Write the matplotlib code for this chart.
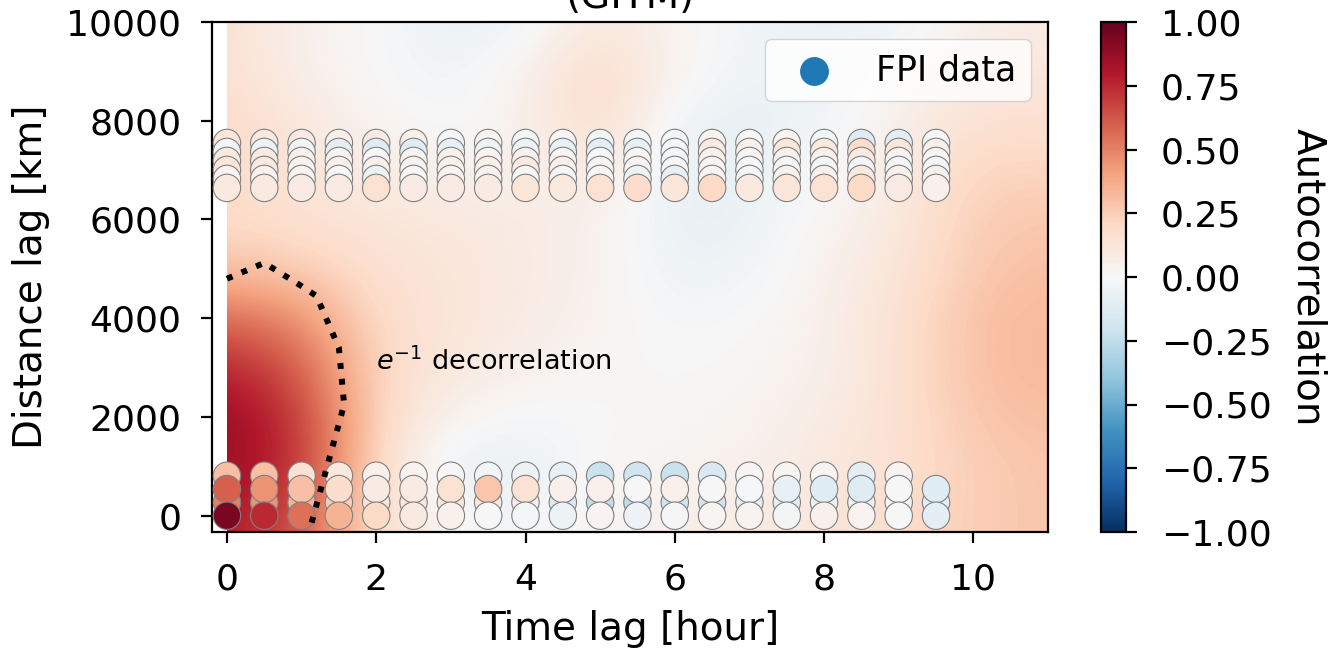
import numpy as np
import matplotlib
matplotlib.use("Agg")
import matplotlib.pyplot as plt
from matplotlib.patches import Rectangle

# time lags [hour] of the FPI pairs
t_fpi = [0.0, 0.5, 1.0, 1.5, 2.0, 2.5, 3.0, 3.5, 4.0, 4.5,
         5.0, 5.5, 6.0, 6.5, 7.0, 7.5, 8.0, 8.5, 9.0, 9.5]

# FPI autocorrelation, one list per distance lag [km] (nan = no pair)
nan = np.nan
fpi = {
    270:  [0.50, 0.45, 0.35, 0.25, 0.12, 0.10, 0.12, 0.10, 0.05, -0.15,
           -0.25, -0.25, -0.20, -0.20, -0.10, -0.10, -0.05, -0.05, 0.00, -0.10],
    810:  [0.30, 0.30, 0.15, 0.10, 0.05, 0.03, 0.00, -0.03, -0.05, -0.08,
           -0.22, -0.20, -0.22, -0.15, 0.02, 0.02, 0.02, -0.10, 0.03, nan],
    540:  [0.60, 0.45, 0.30, 0.18, 0.08, 0.08, 0.15, 0.28, 0.15, 0.05,
           0.05, 0.00, 0.05, 0.00, -0.01, -0.08, -0.12, -0.12, 0.00, -0.12],
    0:    [0.95, 0.75, 0.55, 0.35, 0.20, 0.10, 0.05, 0.00, -0.02, -0.05,
           0.03, -0.06, -0.02, 0.02, 0.03, -0.03, 0.05, 0.03, 0.00, -0.10],
    7550: [0.12, 0.10, 0.08, 0.05, 0.08, 0.05, 0.00, 0.02, -0.03, 0.00,
           -0.03, -0.02, -0.02, 0.03, 0.00, 0.02, -0.03, -0.12, -0.10, 0.00],
    7368: [-0.03, -0.05, -0.03, -0.10, -0.12, -0.12, -0.08, -0.05, -0.05, -0.08,
           -0.10, -0.08, -0.03, 0.08, 0.05, 0.12, 0.10, 0.18, 0.12, 0.05],
    7186: [0.10, 0.08, 0.05, 0.03, 0.00, 0.02, 0.05, 0.03, 0.05, 0.03,
           0.00, 0.02, -0.02, 0.05, 0.02, 0.05, 0.05, 0.08, 0.03, 0.02],
    7004: [0.12, 0.10, 0.03, 0.05, 0.05, 0.03, 0.05, 0.05, 0.08, 0.05,
           0.03, 0.03, 0.00, 0.02, -0.01, -0.02, -0.02, -0.02, -0.02, -0.02],
    6822: [0.03, 0.03, 0.03, 0.00, -0.05, 0.00, 0.03, 0.03, 0.00, -0.02,
           0.00, -0.05, -0.08, 0.02, -0.02, 0.05, 0.05, 0.10, 0.05, 0.05],
    6640: [0.10, 0.10, 0.08, 0.08, 0.15, 0.08, 0.08, 0.08, 0.12, 0.10,
           0.15, 0.18, 0.12, 0.20, 0.10, 0.12, 0.15, 0.20, 0.08, 0.05],
}

# GITM autocorrelation field (rows: distance lag, cols: time lag)
t_grid = [0, 1, 2, 3, 4, 5, 6, 7, 8, 9, 10, 11]
d_grid = [0, 1000, 2000, 3000, 4000, 5000, 6000, 7000, 8000, 9000, 10000]
gitm = np.array([
    [0.80, 0.65, 0.15, 0.00, -0.03, 0.03, 0.05, 0.08, 0.12, 0.18, 0.25, 0.28],
    [0.87, 0.74, 0.18, -0.08, -0.08, 0.02, 0.03, 0.05, 0.10, 0.15, 0.25, 0.28],
    [0.87, 0.72, 0.20, 0.03, -0.02, 0.00, 0.02, 0.03, 0.08, 0.15, 0.28, 0.30],
    [0.77, 0.62, 0.20, 0.10, 0.05, 0.02, 0.00, 0.02, 0.05, 0.15, 0.30, 0.32],
    [0.57, 0.47, 0.18, 0.12, 0.08, 0.03, -0.02, 0.00, 0.05, 0.15, 0.30, 0.32],
    [0.30, 0.25, 0.15, 0.12, 0.08, 0.05, -0.06, -0.04, 0.05, 0.12, 0.27, 0.30],
    [0.18, 0.15, 0.12, 0.10, 0.08, 0.05, -0.08, -0.06, 0.02, 0.10, 0.25, 0.27],
    [0.20, 0.12, 0.08, 0.05, 0.05, 0.10, -0.08, -0.07, 0.00, 0.08, 0.22, 0.22],
    [0.20, 0.10, 0.03, -0.02, 0.05, 0.20, -0.05, -0.08, -0.03, 0.05, 0.15, 0.15],
    [0.15, 0.05, 0.00, -0.05, 0.05, 0.20, 0.03, -0.05, -0.05, 0.02, 0.10, 0.12],
    [0.15, 0.05, 0.00, -0.07, -0.05, 0.12, 0.02, -0.03, -0.07, -0.05, 0.05, 0.08],
])

# e^-1 decorrelation line
t_cont = [0.0, 0.5, 1.0, 1.2, 1.5, 1.57, 1.1]
d_cont = [4800, 5120, 4650, 4450, 3400, 2250, -330]

plt.rcParams['font.family'] = 'DejaVu Sans'
cmap = 'RdBu_r'

fig = plt.figure(figsize=(13.29, 6.53), dpi=100)
ax = fig.add_axes([212/1329, 1 - 532/653, (1048-212)/1329, (532-22)/653])
cax = fig.add_axes([1101/1329, 1 - 532/653, 25/1329, (532-22)/653])

im = ax.imshow(gitm, origin='lower', cmap=cmap, vmin=-1, vmax=1,
               interpolation='bicubic', aspect='auto',
               extent=[t_grid[0] - 0.5, t_grid[-1] + 0.5,
                       d_grid[0] - 500, d_grid[-1] + 500])
im.set_clip_path(Rectangle((0, -300), 11, 10300, transform=ax.transData))

for d, vals in fpi.items():
    vals = np.array(vals)
    ok = ~np.isnan(vals)
    ax.scatter(np.array(t_fpi)[ok], np.full(ok.sum(), d), c=vals[ok],
               cmap=cmap, vmin=-1, vmax=1, s=390,
               edgecolors='#808080', linewidths=0.8, zorder=3)

ax.plot(t_cont, d_cont, color='black', linestyle=':', lw=4.3, zorder=4)
ax.text(2.0, 2950, r'$e^{-1}$ decorrelation', fontsize=19.5,
        ha='left', va='baseline', zorder=5)

ax.scatter([], [], color='tab:blue', s=390, label='FPI data')
leg = ax.legend(loc='upper right', fontsize=25, framealpha=0.8)
leg.set_zorder(10)

ax.set_xlim(-0.2, 11)
ax.set_ylim(-330, 10000)
ax.set_xticks([0, 2, 4, 6, 8, 10])
ax.set_yticks([0, 2000, 4000, 6000, 8000, 10000])
ax.set_xlabel('Time lag [hour]', fontsize=28, labelpad=10)
ax.set_ylabel('Distance lag [km]', fontsize=28, labelpad=12)
ax.set_title('(GITM)', fontsize=28, pad=10)
ax.tick_params(labelsize=26, length=8, width=1.6, pad=14)
for s in ax.spines.values():
    s.set_linewidth(1.6)

cbar = fig.colorbar(im, cax=cax)
cbar.set_ticks([-1, -0.75, -0.5, -0.25, 0, 0.25, 0.5, 0.75, 1])
cbar.ax.yaxis.set_major_formatter(
    matplotlib.ticker.FuncFormatter(lambda v, p: f'{v:.2f}'.replace('-', '\u2212')))
cbar.ax.tick_params(labelsize=26, length=8, width=1.6, pad=17)
cbar.outline.set_linewidth(1.6)
cbar.set_label('Autocorrelation', fontsize=28, rotation=270, va='center')
cax.yaxis.set_label_coords((1308 - 1101) / 25, 0.5)

fig.savefig('out.png', dpi=100)
